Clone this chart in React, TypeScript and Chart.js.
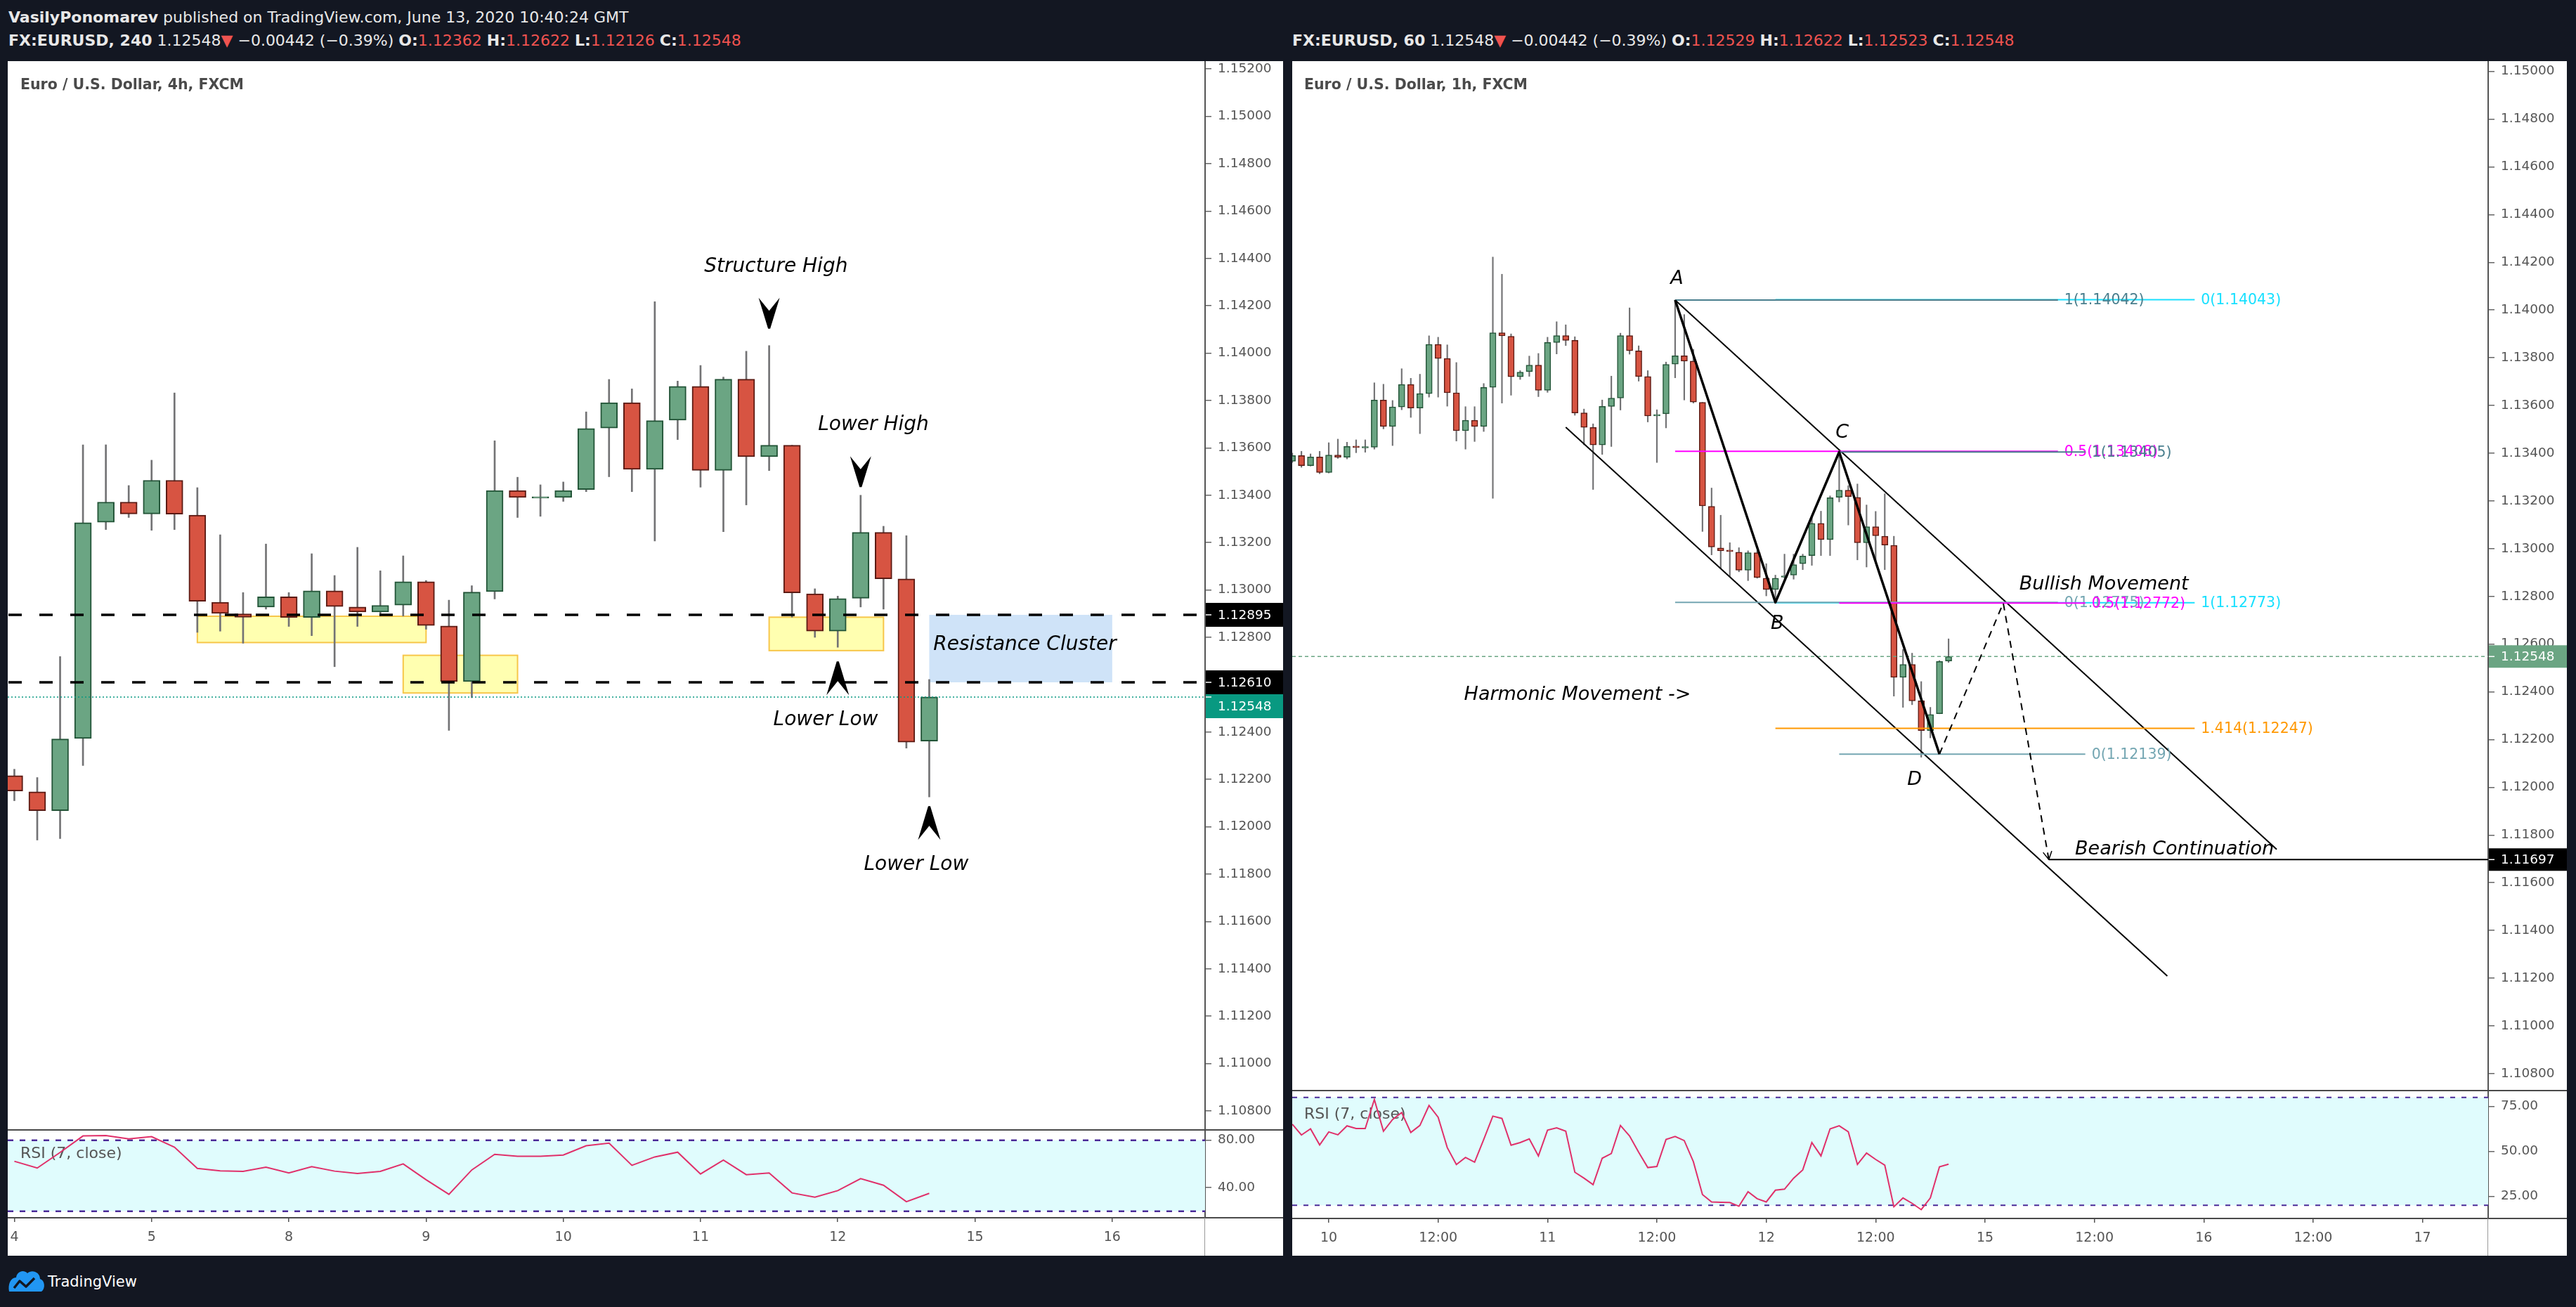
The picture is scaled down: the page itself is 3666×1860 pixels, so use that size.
import React, { useEffect, useRef } from 'react';
import { Chart, registerables } from 'chart.js';

Chart.register(...registerables);

// ---------------- DATA ----------------
// Left pane: EURUSD 4h, bar index 0 = first 4h bar of June 4
const L_START = 0;
const L_OPEN = [1.12216, 1.12148, 1.12068, 1.12373, 1.13286, 1.13371, 1.13321, 1.13463, 1.13316, 1.12948, 1.12899, 1.12928, 1.12971, 1.12884, 1.12996, 1.12928, 1.12907, 1.12936, 1.13035, 1.12848, 1.12613, 1.12993, 1.13420, 1.13388, 1.13391, 1.13424, 1.13684, 1.13791, 1.13509, 1.13717, 1.13860, 1.13505, 1.13890, 1.13563, 1.13611, 1.12984, 1.12826, 1.12965, 1.13243, 1.13047, 1.12362];
const L_HIGH = [1.12243, 1.12208, 1.12719, 1.13613, 1.13613, 1.13441, 1.13548, 1.13832, 1.13432, 1.13233, 1.12989, 1.13194, 1.12989, 1.13153, 1.13061, 1.13180, 1.13081, 1.13144, 1.13040, 1.12957, 1.13018, 1.13630, 1.13476, 1.13444, 1.13456, 1.13752, 1.13889, 1.13849, 1.14217, 1.13882, 1.13948, 1.13899, 1.14008, 1.14032, 1.13611, 1.13005, 1.12974, 1.13400, 1.13269, 1.13229, 1.12622];
const L_LOW = [1.12110, 1.11944, 1.11950, 1.12259, 1.13255, 1.13306, 1.13252, 1.13255, 1.12821, 1.12826, 1.12775, 1.12919, 1.12846, 1.12807, 1.12676, 1.12846, 1.12890, 1.12890, 1.12834, 1.12407, 1.12545, 1.12962, 1.13306, 1.13311, 1.13374, 1.13415, 1.13478, 1.13415, 1.13207, 1.13635, 1.13434, 1.13246, 1.13359, 1.13504, 1.12885, 1.12800, 1.12758, 1.12928, 1.12919, 1.12332, 1.12126];
const L_CLOSE = [1.12151, 1.12068, 1.12371, 1.13284, 1.13371, 1.13321, 1.13463, 1.13320, 1.12952, 1.12901, 1.12885, 1.12971, 1.12884, 1.12996, 1.12930, 1.12907, 1.12935, 1.13035, 1.12850, 1.12613, 1.12991, 1.13420, 1.13391, 1.13391, 1.13420, 1.13682, 1.13791, 1.13509, 1.13715, 1.13860, 1.13505, 1.13890, 1.13563, 1.13611, 1.12988, 1.12826, 1.12964, 1.13243, 1.13047, 1.12357, 1.12548];
const L_RSI = [62.2, 56.5, 69.7, 83.6, 84.0, 81.2, 83.0, 74.1, 56.2, 54.1, 53.7, 57.2, 52.3, 57.6, 53.9, 51.9, 53.7, 60.0, 46.6, 34.3, 54.9, 68.1, 66.5, 66.5, 67.5, 75.3, 77.6, 58.8, 65.9, 69.9, 51.5, 63.2, 50.9, 52.3, 35.5, 31.9, 37.4, 47.5, 42.0, 28.1, 35.1];
const L_TIME_IDX = [0, 6, 12, 18, 24, 30, 36, 42, 48];
const L_TIME_LABELS = ['4', '5', '8', '9', '10', '11', '12', '15', '16'];
const L_PRICE_TICKS = [1.108, 1.110, 1.112, 1.114, 1.116, 1.118, 1.120, 1.122, 1.124, 1.126, 1.128, 1.130, 1.132, 1.134, 1.136, 1.138, 1.140, 1.142, 1.144, 1.146, 1.148, 1.150, 1.152];
const L_RSI_TICKS = [40, 80];
const L_X_RANGE = [-0.29, 52.06];
const L_Y_RANGE = [1.10720, 1.15233];
const L_RSI_RANGE = [14.5, 88.7];
const L_LEVELS = [1.12895, 1.12610];
const L_ZONES = [
  { x0: 8, x1: 18, y0: 1.12889, y1: 1.12778 },
  { x0: 17, x1: 22, y0: 1.12724, y1: 1.12565 },
  { x0: 33, x1: 38, y0: 1.12885, y1: 1.12744 },
];
const L_CLUSTER = { x0: 40, x1: 48, y0: 1.12895, y1: 1.12610 };
const L_DOWN_ARROWS = [{ x: 33, y: 1.14103 }, { x: 37, y: 1.13434 }];
const L_UP_ARROWS = [{ x: 36, y: 1.12698 }, { x: 40, y: 1.12087 }];
const L_NOTES = [
  { t: 'Structure High', x: 33.3, y: 1.14363 },
  { t: 'Lower High', x: 37.56, y: 1.13698 },
  { t: 'Lower Low', x: 35.47, y: 1.12450 },
  { t: 'Lower Low', x: 39.43, y: 1.11840 },
];
const L_CLUSTER_NOTE = { t: 'Resistance Cluster', x: 40.18, y: 1.12769 };

// Right pane: EURUSD 1h, bar index 0 = June 10 00:00
const R_START = -4;
const R_OPEN = [1.13366, 1.13390, 1.13348, 1.13384, 1.13319, 1.13392, 1.13383, 1.13429, 1.13422, 1.13425, 1.13623, 1.13512, 1.13594, 1.13688, 1.13589, 1.13650, 1.13856, 1.13797, 1.13653, 1.13494, 1.13538, 1.13512, 1.13676, 1.13905, 1.13890, 1.13720, 1.13742, 1.13769, 1.13664, 1.13864, 1.13893, 1.13873, 1.13569, 1.13508, 1.13435, 1.13596, 1.13631, 1.13893, 1.13829, 1.13721, 1.13556, 1.13565, 1.13773, 1.13808, 1.13786, 1.13613, 1.13177, 1.13003, 1.12991, 1.12985, 1.12910, 1.12983, 1.12876, 1.12829, 1.12880, 1.12889, 1.12937, 1.12971, 1.13106, 1.13038, 1.13215, 1.13245, 1.13215, 1.13025, 1.13092, 1.13052, 1.13014, 1.12461, 1.12515, 1.12362, 1.12238, 1.12308, 1.12529];
const R_HIGH = [1.13400, 1.13408, 1.13397, 1.13408, 1.13444, 1.13459, 1.13446, 1.13456, 1.13456, 1.13695, 1.13689, 1.13621, 1.13754, 1.13714, 1.13731, 1.13892, 1.13886, 1.13854, 1.13780, 1.13595, 1.13595, 1.13692, 1.14222, 1.14150, 1.13900, 1.13746, 1.13807, 1.13818, 1.13886, 1.13951, 1.13938, 1.13888, 1.13585, 1.13523, 1.13623, 1.13723, 1.13903, 1.14009, 1.13850, 1.13746, 1.13582, 1.13782, 1.14042, 1.13981, 1.13835, 1.13613, 1.13254, 1.13140, 1.13025, 1.13004, 1.12991, 1.12991, 1.12937, 1.12889, 1.12977, 1.12977, 1.12977, 1.13133, 1.13157, 1.13221, 1.13405, 1.13264, 1.13271, 1.13183, 1.13156, 1.13230, 1.13052, 1.12578, 1.12562, 1.12443, 1.12335, 1.12531, 1.12622];
const R_LOW = [1.13361, 1.13341, 1.13346, 1.13314, 1.13317, 1.13378, 1.13376, 1.13402, 1.13404, 1.13417, 1.13502, 1.13432, 1.13582, 1.13550, 1.13482, 1.13635, 1.13635, 1.13597, 1.13451, 1.13417, 1.13449, 1.13491, 1.13211, 1.13610, 1.13643, 1.13709, 1.13722, 1.13637, 1.13655, 1.13816, 1.13851, 1.13559, 1.13435, 1.13248, 1.13395, 1.13428, 1.13581, 1.13815, 1.13702, 1.13531, 1.13361, 1.13506, 1.13716, 1.13623, 1.13610, 1.13072, 1.12974, 1.12916, 1.12883, 1.12903, 1.12866, 1.12876, 1.12802, 1.12775, 1.12876, 1.12872, 1.12912, 1.12930, 1.12971, 1.12971, 1.13196, 1.13099, 1.12953, 1.12923, 1.12939, 1.12912, 1.12382, 1.12335, 1.12346, 1.12126, 1.12207, 1.12308, 1.12523];
const R_CLOSE = [1.13390, 1.13348, 1.13384, 1.13319, 1.13392, 1.13383, 1.13428, 1.13424, 1.13426, 1.13623, 1.13512, 1.13594, 1.13688, 1.13589, 1.13650, 1.13856, 1.13797, 1.13653, 1.13494, 1.13538, 1.13512, 1.13676, 1.13905, 1.13892, 1.13720, 1.13740, 1.13769, 1.13664, 1.13864, 1.13893, 1.13873, 1.13569, 1.13508, 1.13435, 1.13596, 1.13631, 1.13893, 1.13829, 1.13721, 1.13556, 1.13562, 1.13772, 1.13808, 1.13786, 1.13614, 1.13179, 1.13007, 1.12991, 1.12988, 1.12910, 1.12983, 1.12879, 1.12829, 1.12876, 1.12884, 1.12933, 1.12969, 1.13106, 1.13038, 1.13213, 1.13245, 1.13218, 1.13025, 1.13092, 1.13054, 1.13015, 1.12461, 1.12515, 1.12362, 1.12238, 1.12305, 1.12527, 1.12548];
const R_RSI = [65.1, 59.1, 62.5, 53.6, 60.8, 59.2, 64.2, 62.7, 62.7, 78.8, 61.2, 67.7, 71.6, 60.5, 64.4, 75.5, 69.0, 52.1, 42.7, 46.6, 44.0, 56.6, 69.6, 68.3, 53.4, 54.9, 56.9, 47.5, 61.8, 63.1, 61.2, 38.4, 35.1, 31.5, 46.2, 48.8, 64.4, 58.6, 49.5, 41.0, 41.6, 56.6, 58.3, 56.0, 44.3, 26.0, 21.9, 21.7, 21.6, 19.5, 27.6, 23.7, 21.9, 28.4, 29.0, 35.1, 39.7, 54.9, 47.5, 62.5, 64.2, 60.9, 42.7, 49.1, 45.5, 42.3, 19.2, 24.1, 21.1, 17.6, 24.1, 41.4, 42.9];
const R_TIME_IDX = [0, 12, 24, 36, 48, 60, 72, 84, 96, 108, 120];
const R_TIME_LABELS = ['10', '12:00', '11', '12:00', '12', '12:00', '15', '12:00', '16', '12:00', '17'];
const R_PRICE_TICKS = [1.108, 1.110, 1.112, 1.114, 1.116, 1.118, 1.120, 1.122, 1.124, 1.126, 1.128, 1.130, 1.132, 1.134, 1.136, 1.138, 1.140, 1.142, 1.144, 1.146, 1.148, 1.150];
const R_RSI_TICKS = [25, 50, 75];
const R_X_RANGE = [-4.01, 127.2];
const R_Y_RANGE = [1.10729, 1.15043];
const R_RSI_RANGE = [12.7, 83.8];
const R_ABCD = [[38, 1.14042], [49, 1.12775], [56, 1.13405], [67, 1.12139]];
const R_PROJECTION = [[67, 1.12139], [74, 1.12772], [79, 1.11697]];
const R_CHANNEL_UPPER = [[38, 1.14042], [104, 1.11740]];
const R_CHANNEL_LOWER = [[26, 1.13509], [92, 1.11209]];
const R_TARGET = { x: 79, y: 1.11697 };
const FIB_AB = { span: [38, 80], levels: [1, 0.5, 0], prices: [1.14042, 1.13408, 1.12775] };
const FIB_EXT = { span: [49, 95], levels: [0, 1, 1.414], prices: [1.14043, 1.12773, 1.12247] };
const FIB_CD = { span: [56, 83], levels: [1, 0.5, 0], prices: [1.13405, 1.12772, 1.12139] };
const R_NOTES = [
  { t: 'A', x: 38.2, y: 1.14131 },
  { t: 'B', x: 49.2, y: 1.12685 },
  { t: 'C', x: 56.33, y: 1.13486 },
  { t: 'D', x: 64.27, y: 1.12031 },
  { t: 'Harmonic Movement ->', x: 27.29, y: 1.12387 },
  { t: 'Bullish Movement', x: 85.04, y: 1.12848 },
  { t: 'Bearish Continuation', x: 92.79, y: 1.11740 },
];

const LAST_PRICE = 1.12548;
const CHANGE_TEXT = '\u22120.00442 (\u22120.39%)';
const RSI_UPPER = 80;
const RSI_LOWER = 20;

// ---------------- STYLE ----------------
const FONT = '"DejaVu Sans", "Liberation Sans", sans-serif';
const GREEN = '#6ba583';
const GREEN_B = '#225437';
const RED = '#d75442';
const RED_B = '#5b1a13';
const WICK = '#737375';
const TICK_COLOR = '#555555';
const AXIS_FONT_SIZE = 18.5;
const NOTE_FONT_L = `italic 28px ${FONT}`;
const NOTE_FONT_R = `italic 27px ${FONT}`;
const SLATE = '#4a7f8e';
const SLATE_L = '#74a6b2';
const MAGENTA = '#ff00ff';
const CYAN = '#18e0ff';
const ORANGE = '#ff9800';
const FIB_AB_COLORS = [SLATE, MAGENTA, SLATE_L];
const FIB_CD_COLORS = [SLATE, MAGENTA, SLATE_L];
const FIB_EXT_COLORS = [CYAN, CYAN, ORANGE];

// ---------------- HELPERS ----------------
function makeCandles(open: number[], high: number[], low: number[], close: number[], start: number, bodyW: number, wickW: number, bw: number) {
  const up = open.map((o, i) => close[i] >= o);
  return [
    {
      type: 'bar',
      data: low.map((l, i) => ({ x: start + i, y: [l, high[i]] })),
      backgroundColor: WICK,
      borderWidth: 0,
      barThickness: wickW,
      grouped: false,
      order: 2,
    },
    {
      type: 'bar',
      data: open.map((o, i) => ({ x: start + i, y: [o, close[i]] })),
      backgroundColor: up.map((u) => (u ? GREEN : RED)),
      borderColor: up.map((u) => (u ? GREEN_B : RED_B)),
      borderWidth: bw,
      borderSkipped: false,
      barThickness: bodyW,
      minBarLength: 2,
      grouped: false,
      order: 1,
    },
  ];
}

function priceAxis(range: number[], ticks: number[], w: number, digits: number) {
  return {
    position: 'right',
    min: range[0],
    max: range[1],
    afterBuildTicks: (s: any) => {
      s.ticks = ticks.map((v) => ({ value: v }));
    },
    afterFit: (s: any) => {
      s.width = w;
      s.paddingTop = 0;
      s.paddingBottom = 0;
    },
    ticks: {
      color: TICK_COLOR,
      font: { family: FONT, size: AXIS_FONT_SIZE },
      padding: 9,
      callback: (v: any) => Number(v).toFixed(digits),
    },
    grid: { display: true, drawOnChartArea: false, drawTicks: true, tickLength: 9, color: '#666', lineWidth: 1.5 },
    border: { display: true, color: '#555', width: 2 },
  };
}

function baseOptions(xr: number[], y: any, x?: any) {
  return {
    animation: false,
    responsive: false,
    maintainAspectRatio: false,
    devicePixelRatio: 1,
    events: [],
    layout: { padding: 0 },
    plugins: { legend: { display: false }, tooltip: { enabled: false }, title: { display: false } },
    scales: {
      x: x || { type: 'linear', min: xr[0], max: xr[1], display: false, offset: false },
      y,
    },
  };
}

function clipped(chart: any, fn: (ctx: CanvasRenderingContext2D, x: any, y: any, a: any) => void) {
  const { ctx, chartArea: a, scales } = chart;
  ctx.save();
  ctx.beginPath();
  ctx.rect(a.left, a.top, a.right - a.left, a.bottom - a.top);
  ctx.clip();
  fn(ctx, scales.x, scales.y, a);
  ctx.restore();
}

function strokePath(ctx: CanvasRenderingContext2D, pts: number[][], color: string, w: number, dash: number[] = []) {
  ctx.save();
  ctx.strokeStyle = color;
  ctx.lineWidth = w;
  ctx.setLineDash(dash);
  ctx.lineJoin = 'round';
  ctx.beginPath();
  pts.forEach((p, i) => (i ? ctx.lineTo(p[0], p[1]) : ctx.moveTo(p[0], p[1])));
  ctx.stroke();
  ctx.restore();
}

function chevron(ctx: CanvasRenderingContext2D, cx: number, tipY: number, dir: number, w: number, h: number) {
  const baseY = tipY - dir * h;
  ctx.beginPath();
  ctx.moveTo(cx - w / 2, baseY);
  ctx.lineTo(cx, baseY + dir * h * 0.42);
  ctx.lineTo(cx + w / 2, baseY);
  ctx.lineTo(cx + 1.5, tipY);
  ctx.lineTo(cx - 1.5, tipY);
  ctx.closePath();
  ctx.fill();
}

function axisBoxes(chart: any, items: { v: number; bg: string }[], h: number) {
  const { ctx, chartArea: a, scales } = chart;
  const y = scales.y;
  const boxes = items.map((it) => ({ ...it, py: y.getPixelForValue(it.v) })).sort((p, q) => p.py - q.py);
  let prevBottom = -1e9;
  ctx.save();
  for (const b of boxes) {
    let top = b.py - h / 2;
    if (top < prevBottom) top = prevBottom;
    prevBottom = top + h;
    ctx.fillStyle = b.bg;
    ctx.fillRect(a.right + 1, top, chart.width - a.right - 1, h);
    ctx.fillStyle = '#ffffff';
    ctx.fillRect(a.right + 1, b.py - 0.75, 8, 1.5);
    ctx.font = `${AXIS_FONT_SIZE}px ${FONT}`;
    ctx.textAlign = 'left';
    ctx.textBaseline = 'middle';
    ctx.fillText(b.v.toFixed(5), a.right + 18, top + h / 2 + 1);
  }
  ctx.restore();
}

function paneTitle(chart: any, text: string, dx: number) {
  const { ctx, chartArea: a } = chart;
  ctx.save();
  ctx.fillStyle = '#4a4a4a';
  ctx.font = `bold 20.5px ${FONT}`;
  ctx.textAlign = 'left';
  ctx.textBaseline = 'middle';
  ctx.fillText(text, a.left + dx, a.top + 35);
  ctx.restore();
}

function drawFib(ctx: CanvasRenderingContext2D, f: any, colors: string[], x: any, y: any) {
  const x0 = x.getPixelForValue(f.span[0]);
  const x1 = x.getPixelForValue(f.span[1]);
  f.levels.forEach((lv: number, i: number) => {
    const py = y.getPixelForValue(f.prices[i]);
    strokePath(ctx, [[x0, py], [x1, py]], colors[i], 2);
    ctx.fillStyle = colors[i];
    ctx.font = `20.5px ${FONT}`;
    ctx.textAlign = 'left';
    ctx.textBaseline = 'middle';
    ctx.fillText(`${lv}(${f.prices[i].toFixed(5)})`, x1 + 9, py + 1);
  });
}

// ---------------- PLUGINS ----------------
const leftMainOverlay = {
  id: 'leftMainOverlay',
  beforeDatasetsDraw(chart: any) {
    paneTitle(chart, 'Euro / U.S. Dollar, 4h, FXCM', 18);
    clipped(chart, (ctx, x, y) => {
      for (const z of L_ZONES) {
        const xa = x.getPixelForValue(z.x0), xb = x.getPixelForValue(z.x1);
        const ya = y.getPixelForValue(z.y0), yb = y.getPixelForValue(z.y1);
        ctx.fillStyle = '#ffffb0';
        ctx.fillRect(xa, ya, xb - xa, yb - ya);
        ctx.strokeStyle = '#f7c64a';
        ctx.lineWidth = 2;
        ctx.strokeRect(xa, ya, xb - xa, yb - ya);
      }
      const c = L_CLUSTER;
      const ca = x.getPixelForValue(c.x0), cb = x.getPixelForValue(c.x1);
      const cy0 = y.getPixelForValue(c.y0), cy1 = y.getPixelForValue(c.y1);
      ctx.fillStyle = '#cfe3f8';
      ctx.fillRect(ca, cy0, cb - ca, cy1 - cy0);
    });
  },
  afterDatasetsDraw(chart: any) {
    clipped(chart, (ctx, x, y, a) => {
      for (const lv of L_LEVELS) {
        const py = y.getPixelForValue(lv);
        strokePath(ctx, [[a.left + 1, py], [a.right, py]], '#000', 3.5, [19, 25]);
      }
      const lp = y.getPixelForValue(LAST_PRICE);
      strokePath(ctx, [[a.left, lp], [a.right, lp]], '#089981', 1.5, [2, 3]);
      ctx.fillStyle = '#000';
      for (const d of L_DOWN_ARROWS) chevron(ctx, x.getPixelForValue(d.x), y.getPixelForValue(d.y), 1, 30, 44);
      for (const u of L_UP_ARROWS) chevron(ctx, x.getPixelForValue(u.x), y.getPixelForValue(u.y), -1, 32, 48);
      ctx.font = NOTE_FONT_L;
      ctx.textBaseline = 'middle';
      ctx.textAlign = 'center';
      for (const n of L_NOTES) ctx.fillText(n.t, x.getPixelForValue(n.x), y.getPixelForValue(n.y));
      ctx.textAlign = 'left';
      ctx.fillText(L_CLUSTER_NOTE.t, x.getPixelForValue(L_CLUSTER_NOTE.x), y.getPixelForValue(L_CLUSTER_NOTE.y));
    });
  },
  afterDraw(chart: any) {
    axisBoxes(chart, [
      { v: L_LEVELS[0], bg: '#000000' },
      { v: L_LEVELS[1], bg: '#000000' },
      { v: LAST_PRICE, bg: '#089981' },
    ], 34);
  },
};

const rightMainOverlay = {
  id: 'rightMainOverlay',
  beforeDatasetsDraw(chart: any) {
    paneTitle(chart, 'Euro / U.S. Dollar, 1h, FXCM', 17);
  },
  afterDatasetsDraw(chart: any) {
    clipped(chart, (ctx, x, y, a) => {
      const P = (p: number[]) => [x.getPixelForValue(p[0]), y.getPixelForValue(p[1])];
      const lp = y.getPixelForValue(LAST_PRICE);
      strokePath(ctx, [[a.left, lp], [a.right, lp]], GREEN, 1.5, [5, 4]);
      strokePath(ctx, R_CHANNEL_UPPER.map(P), '#000', 2);
      strokePath(ctx, R_CHANNEL_LOWER.map(P), '#000', 2);
      drawFib(ctx, FIB_EXT, FIB_EXT_COLORS, x, y);
      drawFib(ctx, FIB_AB, FIB_AB_COLORS, x, y);
      drawFib(ctx, FIB_CD, FIB_CD_COLORS, x, y);
      strokePath(ctx, R_ABCD.map(P), '#000', 3.5);
      const proj = R_PROJECTION.map(P);
      strokePath(ctx, proj, '#000', 2, [10, 8]);
      const tip = proj[proj.length - 1], from = proj[proj.length - 2];
      const ang = Math.atan2(tip[1] - from[1], tip[0] - from[0]);
      strokePath(ctx, [
        [tip[0] - 13 * Math.cos(ang - 0.5), tip[1] - 13 * Math.sin(ang - 0.5)],
        tip,
        [tip[0] - 13 * Math.cos(ang + 0.5), tip[1] - 13 * Math.sin(ang + 0.5)],
      ], '#000', 1.5);
      const ty = y.getPixelForValue(R_TARGET.y);
      strokePath(ctx, [[x.getPixelForValue(R_TARGET.x), ty], [a.right, ty]], '#000', 2);
      ctx.fillStyle = '#000';
      ctx.font = NOTE_FONT_R;
      ctx.textAlign = 'center';
      ctx.textBaseline = 'middle';
      for (const n of R_NOTES) ctx.fillText(n.t, x.getPixelForValue(n.x), y.getPixelForValue(n.y));
    });
  },
  afterDraw(chart: any) {
    axisBoxes(chart, [
      { v: LAST_PRICE, bg: GREEN },
      { v: R_TARGET.y, bg: '#000000' },
    ], 32);
  },
};

function rsiOverlay(id: string, dash: number[], dashW: number, dx: number) {
  return {
    id,
    beforeDatasetsDraw(chart: any) {
      const { ctx, chartArea: a, scales } = chart;
      const y80 = scales.y.getPixelForValue(RSI_UPPER);
      const y20 = scales.y.getPixelForValue(RSI_LOWER);
      ctx.save();
      ctx.fillStyle = '#e0fcfd';
      ctx.fillRect(a.left, y80, a.right - a.left, y20 - y80);
      ctx.strokeStyle = '#4b2a98';
      ctx.lineWidth = dashW;
      ctx.setLineDash(dash);
      for (const yy of [y80, y20]) {
        ctx.beginPath();
        ctx.moveTo(a.left, yy);
        ctx.lineTo(a.right, yy);
        ctx.stroke();
      }
      ctx.setLineDash([]);
      ctx.fillStyle = '#555';
      ctx.font = `22px ${FONT}`;
      ctx.textAlign = 'left';
      ctx.textBaseline = 'middle';
      ctx.fillText('RSI (7, close)', a.left + dx, a.top + 34);
      ctx.restore();
    },
  };
}

// ---------------- CHART FACTORIES ----------------
function makeMain(open: number[], high: number[], low: number[], close: number[], start: number, xr: number[], yr: number[], ticks: number[], axisW: number, bodyW: number, wickW: number, bw: number, plugin: any) {
  return {
    type: 'bar',
    data: { datasets: makeCandles(open, high, low, close, start, bodyW, wickW, bw) },
    options: baseOptions(xr, priceAxis(yr, ticks, axisW, 5)),
    plugins: [plugin],
  };
}

function makeRsi(values: number[], start: number, xr: number[], yr: number[], yTicks: number[], tIdx: number[], tLabels: string[], axisW: number, timeH: number, plugin: any) {
  const xAxis = {
    type: 'linear',
    position: 'bottom',
    min: xr[0],
    max: xr[1],
    offset: false,
    afterBuildTicks: (s: any) => {
      s.ticks = tIdx.map((v) => ({ value: v }));
    },
    afterFit: (s: any) => {
      s.height = timeH;
      s.paddingLeft = 0;
      s.paddingRight = 0;
    },
    ticks: {
      autoSkip: false,
      maxRotation: 0,
      padding: 11,
      color: TICK_COLOR,
      font: { family: FONT, size: 19 },
      callback: (_v: any, i: number) => tLabels[i],
    },
    grid: { display: true, drawOnChartArea: false, drawTicks: true, tickLength: 6, color: '#555', lineWidth: 1.5 },
    border: { display: false },
  };
  return {
    type: 'line',
    data: {
      datasets: [{
        data: values.map((v, i) => ({ x: start + i, y: v })),
        borderColor: '#e0306a',
        borderWidth: 2,
        pointRadius: 0,
        tension: 0,
        fill: false,
      }],
    },
    options: baseOptions(xr, priceAxis(yr, yTicks, axisW, 2), xAxis),
    plugins: [plugin],
  };
}

const makeLeftMain = () => makeMain(L_OPEN, L_HIGH, L_LOW, L_CLOSE, L_START, L_X_RANGE, L_Y_RANGE, L_PRICE_TICKS, 111, 24, 2, 2, leftMainOverlay);
const makeRightMain = () => makeMain(R_OPEN, R_HIGH, R_LOW, R_CLOSE, R_START, R_X_RANGE, R_Y_RANGE, R_PRICE_TICKS, 112, 9, 1.5, 1.5, rightMainOverlay);
const makeLeftRsi = () => makeRsi(L_RSI, L_START, L_X_RANGE, L_RSI_RANGE, L_RSI_TICKS, L_TIME_IDX, L_TIME_LABELS, 111, 54, rsiOverlay('lrsi', [8, 9], 2.5, 18));
const makeRightRsi = () => makeRsi(R_RSI, R_START, R_X_RANGE, R_RSI_RANGE, R_RSI_TICKS, R_TIME_IDX, R_TIME_LABELS, 112, 53, rsiOverlay('rrsi', [7, 9], 2, 17));

function ChartCanvas({ make, left, top, width, height }: any) {
  const ref = useRef<HTMLCanvasElement | null>(null);
  useEffect(() => {
    if (!ref.current) return;
    const chart = new Chart(ref.current, make());
    return () => chart.destroy();
  }, [make]);
  return <canvas ref={ref} width={width} height={height} style={{ position: 'absolute', left, top, width, height }} />;
}

const hdr: any = {
  position: 'absolute',
  color: '#e8e8e8',
  fontFamily: FONT,
  fontSize: 22,
  whiteSpace: 'nowrap',
  lineHeight: '26px',
};
const red = { color: '#ef5350' };

function Quote({ tf, o, h, l, c, left }: any) {
  return (
    <div style={{ ...hdr, left, top: 45 }}>
      <b>FX:EURUSD, {tf}</b> {c.toFixed(5)}<span style={red}>▼</span> {CHANGE_TEXT} <b>O:</b><span style={red}>{o.toFixed(5)}</span> <b>H:</b><span style={red}>{h.toFixed(5)}</span> <b>L:</b><span style={red}>{l.toFixed(5)}</span> <b>C:</b><span style={red}>{c.toFixed(5)}</span>
    </div>
  );
}

function Line({ left, top, width, height, color }: any) {
  return <div style={{ position: 'absolute', left, top, width, height, background: color }} />;
}

export default function App() {
  const ln = L_OPEN.length - 1;
  const rn = R_OPEN.length - 1;
  return (
    <div style={{ position: 'fixed', left: 0, top: 0, width: 3666, height: 1860, background: '#131722', overflow: 'hidden' }}>
      <div style={{ ...hdr, left: 12, top: 12 }}>
        <b>VasilyPonomarev</b> published on TradingView.com, June 13, 2020 10:40:24 GMT
      </div>
      <Quote tf="240" o={L_OPEN[ln]} h={L_HIGH[ln]} l={L_LOW[ln]} c={L_CLOSE[ln]} left={12} />
      <Quote tf="60" o={R_OPEN[rn]} h={R_HIGH[rn]} l={R_LOW[rn]} c={R_CLOSE[rn]} left={1839} />

      <div style={{ position: 'absolute', left: 11, top: 87, width: 1815, height: 1700, background: '#fff' }} />
      <div style={{ position: 'absolute', left: 1839, top: 87, width: 1814, height: 1700, background: '#fff' }} />

      <ChartCanvas make={makeLeftMain} left={11} top={87} width={1815} height={1521} />
      <ChartCanvas make={makeLeftRsi} left={11} top={1608} width={1815} height={179} />
      <ChartCanvas make={makeRightMain} left={1839} top={87} width={1814} height={1465} />
      <ChartCanvas make={makeRightRsi} left={1839} top={1552} width={1814} height={235} />

      <Line left={11} top={1607} width={1815} height={2} color="#4a4a4a" />
      <Line left={11} top={1732} width={1815} height={2} color="#4a4a4a" />
      <Line left={1714} top={1733} width={1} height={54} color="#9a9a9a" />
      <Line left={1839} top={1551} width={1814} height={2} color="#4a4a4a" />
      <Line left={1839} top={1733} width={1814} height={2} color="#4a4a4a" />
      <Line left={3540} top={1734} width={1} height={53} color="#9a9a9a" />

      <svg width={54} height={34} style={{ position: 'absolute', left: 11, top: 1806 }} viewBox="0 0 54 34">
        <path d="M2 32 C0 22 4 12 12 12 C13 4 22 0 28 6 C34 0 46 4 46 14 C53 16 54 28 48 32 Z" fill="#2196f3" />
        <path d="M9 27 L17 17 L26 25 L38 13" stroke="#131722" strokeWidth={3.5} fill="none" strokeLinejoin="round" />
      </svg>
      <div style={{ ...hdr, left: 68, top: 1811, fontSize: 21, color: '#ffffff' }}>TradingView</div>
    </div>
  );
}
